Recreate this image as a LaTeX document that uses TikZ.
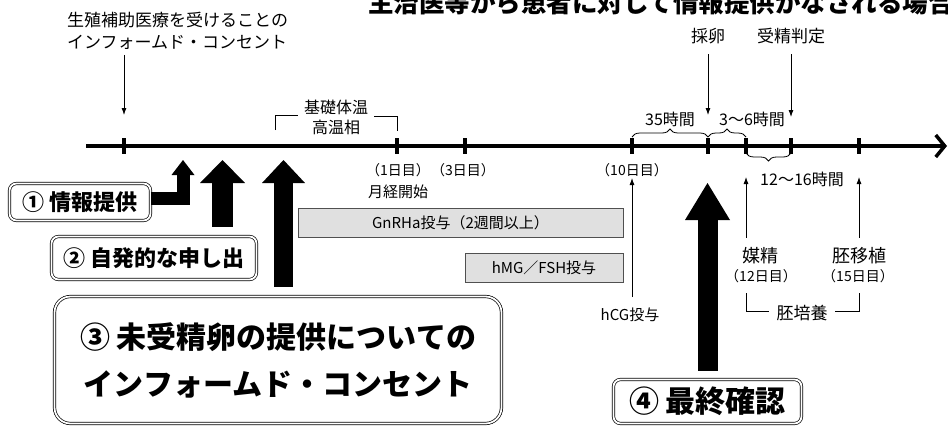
\documentclass[tikz,border=0pt]{standalone}
\usepackage{fontspec}
\setmainfont{Noto Sans CJK JP}
\usepackage{tikz}
\usetikzlibrary{arrows.meta, positioning, decorations.pathreplacing}
\definecolor{drugfill}{RGB}{224,224,224}
\definecolor{drugline}{RGB}{80,80,80}

\begin{document}
\begin{tikzpicture}[
    x=1pt, y=-1pt,
    note/.style={inner sep=0pt, font=\fontsize{17}{22}\selectfont},
    daylabel/.style={inner sep=0pt, anchor=base, font=\fontsize{14}{17}\selectfont},
    drug/.style={draw=drugline, fill=drugfill, line width=0.8pt, inner sep=0pt, font=\fontsize{15}{18}\selectfont},
    ask/.style={draw, double, double distance=1.8pt, line width=0.7pt, rounded corners=7pt, inner sep=0pt, align=center, font=\bfseries\fontsize{22}{26}\selectfont},
    daytick/.style={line width=3.5pt},
    arrow/.style={-{Latex[length=7pt,width=5pt]}, line width=0.8pt},
    thinline/.style={line width=0.8pt},
    hbrace/.style={decorate, decoration={brace, amplitude=8pt}, line width=0.8pt}
]
\useasboundingbox (0,0) rectangle (948,426);

% Title
\node[anchor=base west, inner sep=0pt, font=\bfseries\fontsize{25.5}{30}\selectfont] (title) at (368,12) {主治医等から患者に対して情報提供がなされる場合};

% Timeline
\coordinate (tl-start) at (86,146);
\coordinate (tl-end) at (947,146);
\coordinate (t-ic) at (124,146);
\coordinate (t-d1) at (397,146);
\coordinate (t-d3) at (465,146);
\coordinate (t-d10) at (632,146);
\coordinate (t-opu) at (708,146);
\coordinate (t-ins) at (746,146);
\coordinate (t-fert) at (791,146);
\coordinate (t-et) at (859,146);
\draw[line width=3.5pt, -{Straight Barb[length=9pt,width=22pt]}] (tl-start) -- (tl-end);
\foreach \tk in {t-ic, t-d1, t-d3, t-d10, t-opu, t-ins, t-fert, t-et}
    \draw[daytick] ([yshift=8pt]\tk) -- ([yshift=-8pt]\tk);

% Informed consent for ART
\node[note, anchor=west, align=left] (icnote) at (67,31) {生殖補助医療を受けることの\\インフォームド・コンセント};
\draw[arrow, shorten <=5pt] (icnote.south -| t-ic) -- ([yshift=31pt]t-ic);

% Basal body temperature
\node[note, align=center, font=\fontsize{16}{20}\selectfont] (bbt) at (336,117) {基礎体温\\高温相};
\draw[thinline] (275,130) -- (275,115) -- (298,115);
\draw[thinline] (374,116) -- (397,116) -- (397,131);

% Day labels
\node[daylabel] (d1) at (398,175) {（1日目）};
\node[daylabel] (d3) at (463,175) {（3日目）};
\node[daylabel] (d10) at (632,175) {（10日目）};
\node[daylabel, anchor=base west, font=\fontsize{15}{18}\selectfont] (menses) at (368,197) {月経開始};

% Drugs
\node[drug, minimum width=325pt, minimum height=29pt] (gnrh) at (460.5,222.5) {GnRHa投与（2週間以上）};
\node[drug, minimum width=158pt, minimum height=29pt] (hmg) at (544,267.5) {hMG／FSH投与};
\node[daylabel, font=\fontsize{15}{18}\selectfont] (hcg) at (630,320) {hCG投与};
\draw[arrow, shorten <=10pt] (hcg.north -| t-d10) -- ([yshift=-32pt]t-d10);

% Oocyte retrieval and fertilization
\node[note, anchor=base] (opu) at (708,42.5) {採卵};
\node[note, anchor=base] (fert) at (791,42.5) {受精判定};
\draw[arrow, shorten <=10pt] (opu.south) -- ([yshift=31pt]t-opu);
\draw[arrow, shorten <=10pt] (fert.south) -- ([yshift=29pt]t-fert);

% Hours
\draw[hbrace] ([yshift=9pt]t-d10) -- ([yshift=9pt]t-opu);
\draw[hbrace] ([yshift=9pt]t-opu) -- ([yshift=9pt]t-ins);
\draw[hbrace] ([yshift=-7pt]t-fert) -- ([yshift=-7pt]t-ins);
\node[note, anchor=base, font=\fontsize{16}{20}\selectfont] (h35) at (670,125) {35時間};
\node[note, anchor=base, font=\fontsize{16}{20}\selectfont] (h3to6) at (752,125) {3〜6時間};
\node[note, anchor=base, font=\fontsize{16}{20}\selectfont] (h12to16) at (802,185) {12〜16時間};

% Insemination and embryo transfer
\node[note, anchor=base, font=\fontsize{18}{22}\selectfont] (ins) at (760,262) {媒精};
\node[daylabel] (ins-day) at (761,281) {（12日目）};
\node[note, anchor=base, font=\fontsize{18}{22}\selectfont] (et) at (859,262) {胚移植};
\node[daylabel] (et-day) at (858,281) {（15日目）};
\draw[arrow, shorten <=9pt] (ins.north -| t-ins) -- ([yshift=-31pt]t-ins);
\draw[arrow, shorten <=9pt] (et.north -| t-et) -- ([yshift=-31pt]t-et);

% Embryo culture
\node[note, anchor=base] (culture) at (802,319.5) {胚培養};
\draw[thinline] (746,293) -- (746,311) -- (769,311);
\draw[thinline] (835,311) -- (859,311) -- (859,293);

% Steps
\node[ask, minimum width=141pt, minimum height=37pt] (info) at (80,202) {① 情報提供};
\node[ask, minimum width=205pt, minimum height=43pt] (offer) at (154,258) {② 自発的な申し出};
\node[ask, minimum width=447pt, minimum height=127pt, rounded corners=16pt, font=\bfseries\fontsize{30}{47}\selectfont] (consent) at (278,360) {③ 未受精卵の提供についての\\インフォームド・コンセント};
\node[ask, minimum width=188pt, minimum height=44pt, font=\bfseries\fontsize{30}{36}\selectfont] (final) at (707.5,401.5) {④ 最終確認};

% Block arrows
\coordinate (tip1) at (183,160);
\coordinate (tip2) at (222.5,160);
\coordinate (tip3) at (283.5,160);
\coordinate (tip4) at (707.5,183);
\draw[line width=13pt, -{Triangle[length=15pt,width=23pt,line width=0pt]}] ([yshift=3.5pt]info.east) -| (tip1);
\draw[line width=21pt, shorten <=9.5pt, -{Triangle[length=23pt,width=45pt,line width=0pt]}] (offer.north -| tip2) -- (tip2);
\draw[line width=19pt, shorten <=9.5pt, -{Triangle[length=23pt,width=43pt,line width=0pt]}] (consent.north -| tip3) -- (tip3);
\draw[line width=20pt, shorten <=8.5pt, -{Triangle[length=37pt,width=45pt,line width=0pt]}] (final.north -| tip4) -- (tip4);

\end{tikzpicture}
\end{document}
